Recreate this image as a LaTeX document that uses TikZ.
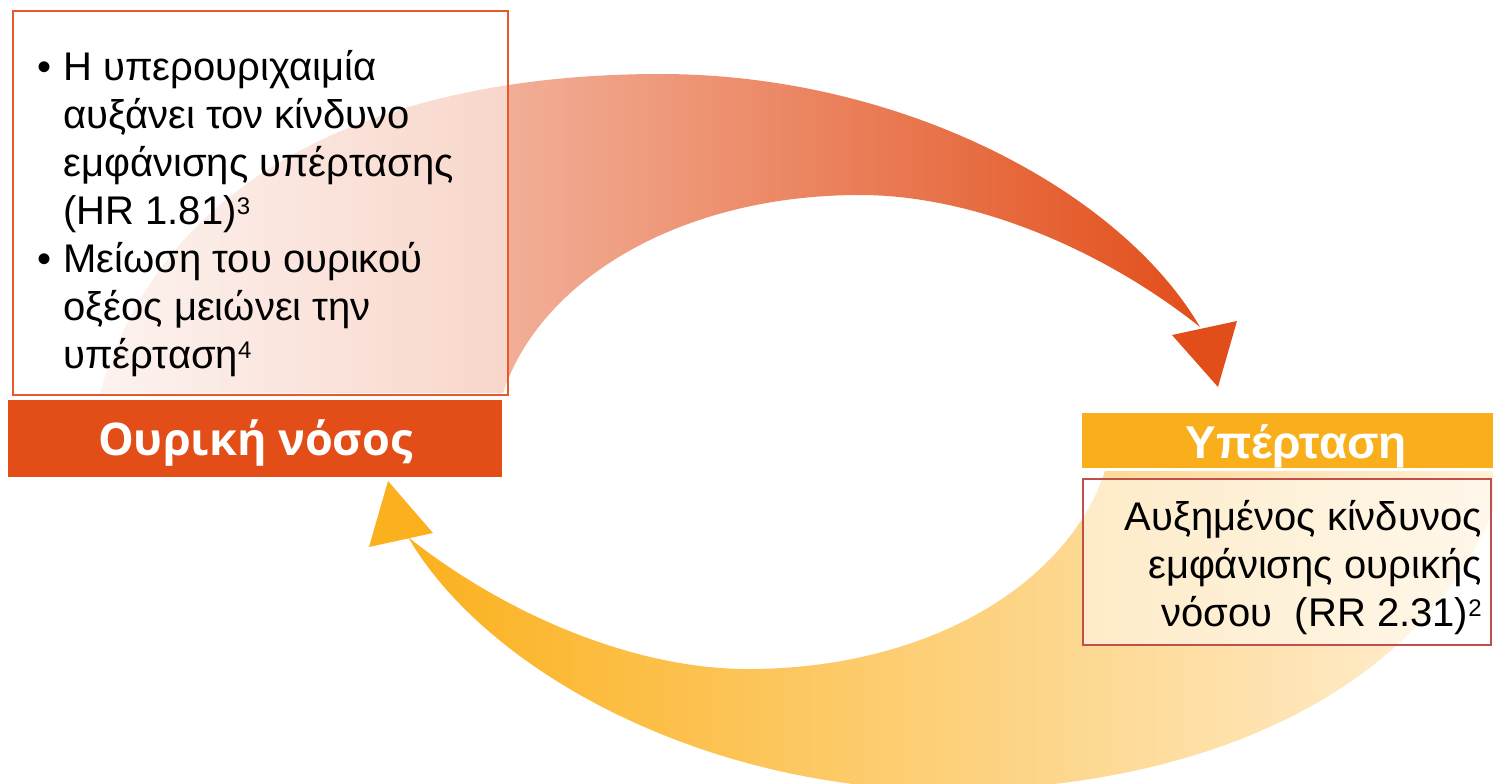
\documentclass[tikz,border=0pt]{standalone}
\usepackage{fontspec}
\setmainfont{Liberation Sans}
\newfontfamily\titlefont{Open Sans}
\definecolor{redbar}{HTML}{E24D18}
\definecolor{yellowbar}{HTML}{F9AF1B}
\definecolor{redborder}{HTML}{E8582A}
\definecolor{darkborder}{HTML}{C0504D}
\definecolor{topL}{HTML}{FBE7E0}
\definecolor{topR}{HTML}{E24E1A}
\definecolor{botL}{HTML}{FBB11E}
\definecolor{botR}{HTML}{FFF1DA}
\newcommand{\supnum}[1]{\raisebox{5pt}{\fontsize{12pt}{12pt}\selectfont #1}}
\tikzset{
  bodytext/.style={font=\fontsize{20pt}{24pt}\selectfont, inner sep=0pt, text=black},
  titleA/.style={font=\titlefont\bfseries\fontsize{22.5pt}{26pt}\selectfont, text=white},
  titleB/.style={font=\bfseries\fontsize{23pt}{26pt}\selectfont, text=white},
  infobox/.style={draw, line width=1pt, fill=white, fill opacity=0.5, anchor=north west, inner sep=0pt},
  barbox/.style={anchor=north west, inner xsep=0pt, inner ysep=0pt},
}
\begin{document}
\begin{tikzpicture}[x=0.5pt,y=-0.5pt]
\path[use as bounding box] (0,0) rectangle (1493,783);
\clip (0,0) rectangle (1493,783);
% top curved arrow band
\shade[left color=topL, right color=topR]
  (100,393) .. controls (170,150) and (420,74) .. (660,74)
  .. controls (900,74) and (1120,190) .. (1200,327)
  .. controls (1110,255) and (980,195) .. (860,195)
  .. controls (680,195) and (540,280) .. (503,393) -- cycle;
\fill[topR] (1172,335) -- (1237,321) -- (1218,387) -- cycle;
% bottom curved arrow band
\shade[left color=botL, right color=botR]
  (1508,471) .. controls (1438,700) and (1188,790) .. (948,790)
  .. controls (708,790) and (488,674) .. (408,537)
  .. controls (498,609) and (628,669) .. (748,669)
  .. controls (928,669) and (1068,584) .. (1105,471) -- cycle;
\fill[botL] (388,481) -- (433,533) -- (369,547) -- cycle;
% boxes
\node[infobox, draw=redborder, minimum width=247.5pt, minimum height=192pt] (tlbox) at (12,10) {};
\node[infobox, draw=darkborder, minimum width=204pt, minimum height=83pt] (brbox) at (1082,478) {};
% bars
\node[barbox, fill=redbar, minimum width=247pt, text height=27.5pt, text depth=11pt, titleA] (ouriki) at (8,400) {Ουρική νόσος};
\node[barbox, fill=yellowbar, minimum width=214pt, text height=22.5pt, text depth=5pt, titleB] (ypertasi) at (1082,413) {Υπέρταση};
% texts
\node[bodytext, anchor=base west, align=left] (tltext) at (63,368)
 {\llap{•\hspace{6pt}}Η υπερουριχαιμία\\
  αυξάνει τον κίνδυνο\\
  εμφάνισης υπέρτασης\\
  (HR 1.81)\supnum{3}\\
  \llap{•\hspace{6pt}}Μείωση του ουρικού\\
  οξέος μειώνει την\\
  υπέρταση\supnum{4}};
\node[bodytext, anchor=base east, align=right] (brtext) at (1482,626)
 {Αυξημένος κίνδυνος\\
  εμφάνισης ουρικής\\
  νόσου\ \ (RR 2.31)\supnum{2}};
\end{tikzpicture}
\end{document}
